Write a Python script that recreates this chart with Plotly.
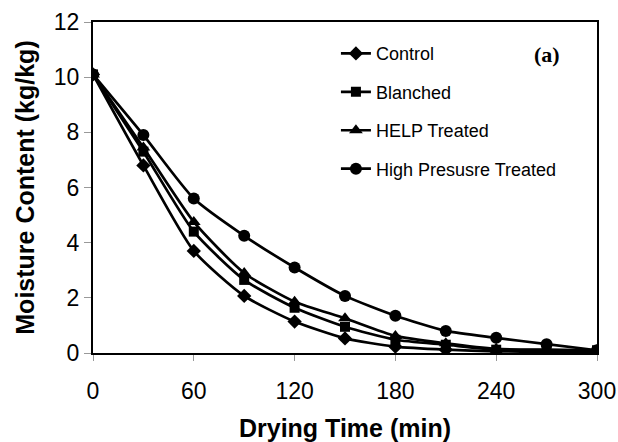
import plotly.graph_objects as go

time_min = [0, 30, 60, 90, 120, 150, 180, 210, 240, 270, 300]
control = [10.1, 6.8, 3.7, 2.07, 1.14, 0.53, 0.23, 0.12, 0.06, 0.05, 0.05]
blanched = [10.1, 7.3, 4.4, 2.65, 1.64, 0.95, 0.48, 0.3, 0.12, 0.1, 0.1]
help_treated = [10.1, 7.45, 4.75, 2.9, 1.86, 1.26, 0.62, 0.35, 0.15, 0.12, 0.1]
high_pressure = [10.1, 7.9, 5.6, 4.25, 3.1, 2.07, 1.35, 0.8, 0.55, 0.32, 0.1]

series = [
    ("Control", control, "diamond", 11),
    ("Blanched", blanched, "square", 10),
    ("HELP Treated", help_treated, "triangle-up", 12),
    ("High Presusre Treated", high_pressure, "circle", 12),
]

fig = go.Figure()
for i, (name, vals, sym, sz) in enumerate(series):
    fig.add_trace(go.Scatter(
        x=time_min, y=vals, name=name, mode="lines+markers",
        line=dict(color="black", width=2.7, shape="spline", smoothing=0.6),
        marker=dict(symbol=sym, size=sz, color="black"),
        legendgroup=str(i),
    ))

axis_font = dict(family="Liberation Sans, Arial, sans-serif", size=23, color="black")
title_font = dict(family="Liberation Sans, Arial, sans-serif", size=25, color="black", weight="bold")

fig.update_layout(
    width=618, height=442,
    margin=dict(l=93, r=21, t=22, b=89),
    paper_bgcolor="white", plot_bgcolor="white",
    showlegend=True,
    legend=dict(
        x=0.482, y=0.96, xanchor="left", yanchor="top",
        font=dict(family="Liberation Sans, Arial, sans-serif", size=18, color="black"),
        bgcolor="rgba(0,0,0,0)", tracegroupgap=12,
    ),
    xaxis=dict(
        range=[0, 300], tickvals=[0, 60, 120, 180, 240, 300],
        showline=True, linecolor="black", linewidth=2, mirror=True,
        ticks="outside", ticklen=6, tickcolor="#999999", tickwidth=1,
        tickfont=axis_font, showgrid=False, zeroline=False,
        ticklabelstandoff=10, automargin=False,
        title=dict(text="Drying Time (min)", font=title_font, standoff=18),
    ),
    yaxis=dict(
        range=[0, 12], tickvals=[0, 2, 4, 6, 8, 10, 12],
        showline=True, linecolor="black", linewidth=2, mirror=True,
        ticks="outside", ticklen=7, tickcolor="#999999", tickwidth=1,
        tickfont=axis_font, showgrid=False, zeroline=False,
        ticklabelstandoff=0, automargin=False,
        title=dict(text="Moisture Content (kg/kg)", font=title_font, standoff=12),
    ),
    annotations=[dict(
        x=0.9, y=0.903, xref="paper", yref="paper", xanchor="center", yanchor="middle",
        text="<b>(a)</b>", showarrow=False,
        font=dict(family="Liberation Serif, Times New Roman, serif", size=22, color="black"),
    )],
)

fig.write_html("out.html")
